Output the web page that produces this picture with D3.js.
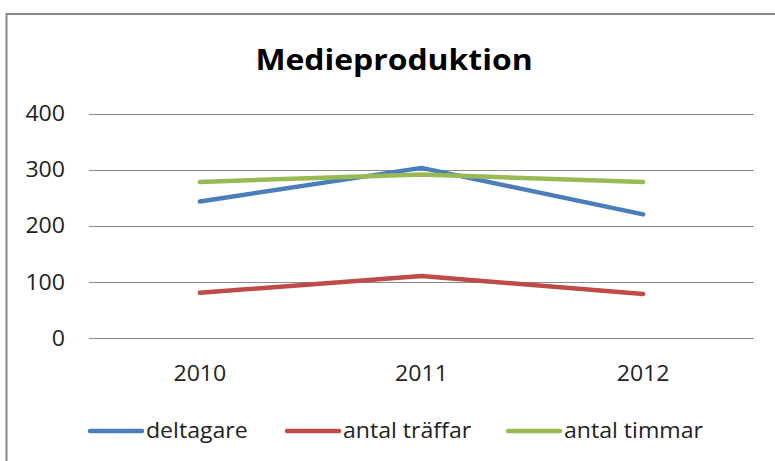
<!DOCTYPE html>
<html><head><meta charset="utf-8">
<script src="https://cdn.jsdelivr.net/npm/d3@7"></script>
<style>html,body{margin:0;padding:0;background:#fff;overflow:hidden}</style>
</head><body>
<svg id="c" width="775" height="461"></svg>
<script>
const categories = ["2010", "2011", "2012"];
const deltagare = [243, 303, 220];
const antalTraffar = [80, 110, 78];
const antalTimmar = [278, 291, 278];
const yTicks = [0, 100, 200, 300, 400];
const seriesNames = ["deltagare", "antal träffar", "antal timmar"];
const seriesColors = ["#4A7EBB", "#BE4B48", "#98B954"];
const title = "Medieproduktion";

(function () {
const series = [deltagare, antalTraffar, antalTimmar].map((v, i) => ({name: seriesNames[i], color: seriesColors[i], values: v}));
const font = "'Open Sans', Lato, sans-serif";
const stretch = "scale(1.1,1)";
const svg = d3.select("#c");

svg.append("rect").attr("x", 6.5).attr("y", 14).attr("width", 800).attr("height", 500)
  .attr("fill", "none").attr("stroke", "#888").attr("stroke-width", 2);

const pLeft = 89, pRight = 754, pTop = 113.5, pBottom = 337.7;
const x = d3.scaleBand().domain(categories).range([pLeft, pRight]);
const y = d3.scaleLinear().domain([0, 400]).range([pBottom, pTop]);

svg.append("g").selectAll("line").data(yTicks).join("line")
  .attr("x1", pLeft).attr("x2", pRight)
  .attr("y1", d => Math.round(y(d)) + 0.5).attr("y2", d => Math.round(y(d)) + 0.5)
  .attr("stroke", "#8c8c8c").attr("stroke-width", 1);

const yAxis = d3.axisLeft(y).tickValues(yTicks).tickSize(0).tickPadding(0);
const gy = svg.append("g").attr("transform", `translate(${pLeft - 24},0)`).call(yAxis);
gy.select(".domain").remove();
gy.selectAll("text").attr("font-family", font).attr("font-size", 21).attr("fill", "#222").attr("dy", "0.35em").attr("transform", stretch);

const xAxis = d3.axisBottom(x).tickSize(0).tickPadding(0);
const gx = svg.append("g").attr("transform", `translate(0,${pBottom + 36})`).call(xAxis);
gx.select(".domain").remove();
gx.selectAll("text").attr("font-family", font).attr("font-size", 21).attr("fill", "#222").attr("dy", "0.35em").attr("transform", stretch);

const line = d3.line().x((d, i) => x(categories[i]) + x.bandwidth() / 2).y(d => y(d));
svg.append("g").selectAll("path").data(series).join("path")
  .attr("d", d => line(d.values)).attr("fill", "none")
  .attr("stroke", d => d.color).attr("stroke-width", 4.5)
  .attr("stroke-linecap", "round").attr("stroke-linejoin", "round");

svg.append("text").attr("transform", `translate(394,70) ${stretch}`).attr("text-anchor", "middle")
  .attr("font-family", font).attr("font-weight", "bold").attr("font-size", 29).attr("fill", "#000")
  .text(title);

const legendX = [90, 287, 508];
const legendY = 431;
const lg = svg.append("g").selectAll("g").data(series).join("g")
  .attr("transform", (d, i) => `translate(${legendX[i]},${legendY})`);
lg.append("line").attr("x1", 0).attr("x2", 52).attr("y1", 0).attr("y2", 0)
  .attr("stroke", d => d.color).attr("stroke-width", 4.5).attr("stroke-linecap", "round");
lg.append("text").attr("transform", `translate(56,0) ${stretch}`).attr("dy", "0.35em")
  .attr("font-family", font).attr("font-size", 21).attr("fill", "#222").text(d => d.name);
})();
</script>
</body></html>
